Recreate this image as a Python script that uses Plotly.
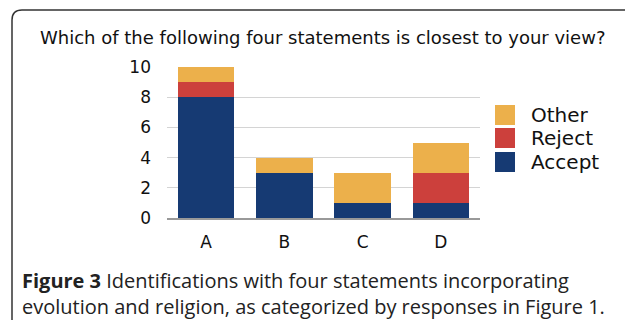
import plotly.graph_objects as go

categories = ["A", "B", "C", "D"]
accept = [8, 3, 1, 1]
reject = [1, 0, 0, 2]
other = [1, 1, 2, 2]
series_names = ["Accept", "Reject", "Other"]
series_colors = ["#163a73", "#cc403c", "#ecb04b"]
y_ticks = [0, 2, 4, 6, 8, 10]
title_text = "Which of the following four statements is closest to your view?"
caption_bold = "Figure 3"
caption_line1 = " Identifications with four statements incorporating"
caption_line2 = "evolution and religion, as categorized by responses in Figure 1."

W, H = 625, 320
fig = go.Figure()
for name, vals, col in zip(series_names, [accept, reject, other], series_colors):
    fig.add_trace(go.Bar(x=categories, y=vals, name=name, marker=dict(color=col, line=dict(width=0)),
                         showlegend=False))

fig.update_layout(
    width=W, height=H, barmode="stack", bargap=0.28,
    paper_bgcolor="white", plot_bgcolor="white",
    margin=dict(l=167, r=145, t=67, b=102),
    font=dict(family="DejaVu Sans", color="#111"),
    xaxis=dict(showgrid=False, showline=True, linecolor="#999", linewidth=2, ticks="",
               tickfont=dict(size=17), ticklabelstandoff=8),
    yaxis=dict(range=[0, 10], tickvals=y_ticks, showgrid=True, gridcolor="#d4d4d4", gridwidth=1,
               zeroline=False, showline=False, ticks="", tickfont=dict(size=17), ticklabelstandoff=15),
)

x0, y0 = 12, 10
r = 10
def px(x):
    return (x - 167) / (W - 167 - 145)
def py(y):
    return 1 - (y - 67) / (H - 67 - 102)
path = f"M {px(x0)},{py(H+5)} L {px(x0)},{py(y0+r)} Q {px(x0)},{py(y0)} {px(x0+r)},{py(y0)} L {px(W+5)},{py(y0)}"
fig.add_shape(type="path", xref="paper", yref="paper", path=path,
              line=dict(color="#333", width=1.5), layer="below")

fig.add_annotation(text=title_text, xref="paper", yref="paper", x=px(322), y=py(37),
                   showarrow=False, xanchor="center", yanchor="middle",
                   font=dict(family="DejaVu Sans", size=18, color="#111"))

# legend (manual)
leg_y = [162, 138, 115]
for name, col, yc in zip(series_names, series_colors, leg_y):
    fig.add_shape(type="rect", xref="paper", yref="paper",
                  x0=px(495), x1=px(515), y0=py(yc - 10), y1=py(yc + 10),
                  fillcolor=col, line=dict(width=0))
    fig.add_annotation(text=name, xref="paper", yref="paper", x=px(529), y=py(yc),
                       showarrow=False, xanchor="left", yanchor="middle",
                       font=dict(family="DejaVu Sans", size=20, color="#111"))

fig.add_annotation(text=f"<b>{caption_bold}</b>{caption_line1}<br>{caption_line2}",
                   xref="paper", yref="paper", align="left",
                   x=px(20), y=py(293), showarrow=False, xanchor="left", yanchor="middle",
                   font=dict(family="Open Sans", size=20, color="#222"))

fig.write_html("out.html")
